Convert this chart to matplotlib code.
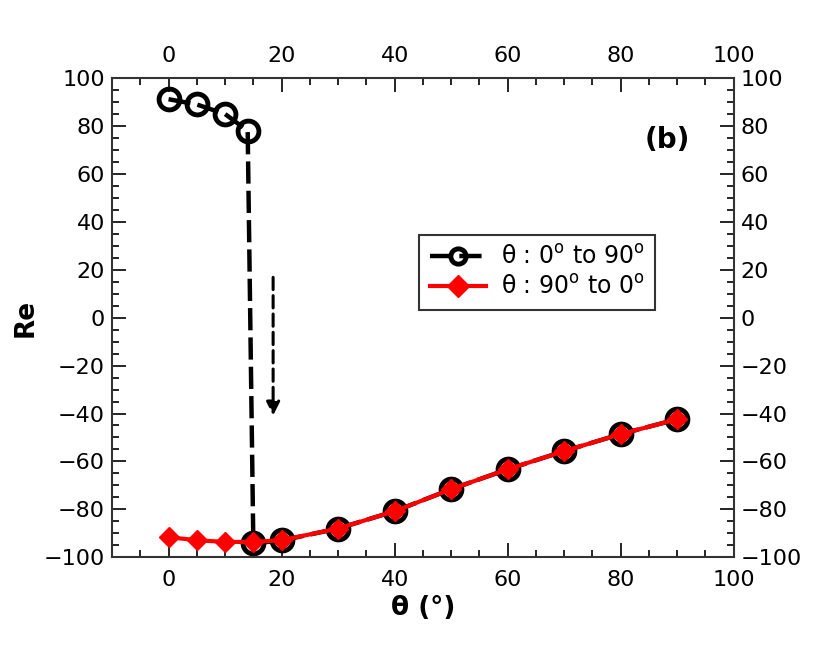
import matplotlib
matplotlib.use('Agg')
import matplotlib.pyplot as plt
from matplotlib.ticker import MultipleLocator

plt.rcParams['font.family'] = ['DejaVu Sans']
plt.rcParams['axes.unicode_minus'] = True

# 数据
theta_up = [0, 5, 10, 14, 15, 20, 30, 40, 50, 60, 70, 80, 90]
re_up = [91.2, 89.0, 85.0, 78.0, -94.2, -93.0, -88.0, -80.8, -71.6, -63.3, -55.7, -48.6, -42.4]
theta_down = [0, 5, 10, 15, 20, 30, 40, 50, 60, 70, 80, 90]
re_down = [-91.6, -92.9, -93.6, -93.6, -92.9, -88.0, -80.8, -71.6, -63.3, -55.7, -48.6, -42.4]

fig = plt.figure(figsize=(8.3, 6.51), dpi=100)
ax = fig.add_axes([0.135, 0.144, 0.749, 0.736])

ax.plot(theta_up, re_up, color='black', lw=3.2, ls=(0, (5, 1.6)), marker='o',
        ms=15, mfc='none', mec='black', mew=3.5, label='θ : 0$^\\mathrm{o}$ to 90$^\\mathrm{o}$')
ax.plot(theta_down, re_down, color='red', lw=3, marker='D', ms=10,
        mfc='red', mec='red', label='θ : 90$^\\mathrm{o}$ to 0$^\\mathrm{o}$')

# 虚线箭头
ax.annotate('', xy=(18.5, -42), xytext=(18.5, 18),
            arrowprops=dict(arrowstyle='-|>', color='black', lw=2.2, ls=(0, (4, 2)),
                            mutation_scale=20))

ax.text(0.93, 0.87, '(b)', transform=ax.transAxes, fontsize=20, fontweight='bold',
        ha='right', va='center')

ax.set_xlim(-10, 100)
ax.set_ylim(-100, 100)
ax.xaxis.set_major_locator(MultipleLocator(20))
ax.xaxis.set_minor_locator(MultipleLocator(5))
ax.yaxis.set_major_locator(MultipleLocator(20))
ax.yaxis.set_minor_locator(MultipleLocator(5))
ax.tick_params(which='both', direction='in', top=True, right=True,
               labeltop=True, labelright=True, labelsize=16, width=1.2)
ax.tick_params(which='major', length=10)
ax.tick_params(which='minor', length=5)
ax.tick_params(axis='x', which='major', pad=9)
ax.tick_params(axis='y', which='major', pad=5)
for s in ax.spines.values():
    s.set_linewidth(1.5)
    s.set_color('#333333')

ax.set_xlabel('θ (°)', fontsize=19, fontweight='bold', labelpad=4)
ax.set_ylabel('Re', fontsize=19, fontweight='bold', labelpad=4)

leg = ax.legend(loc='center left', bbox_to_anchor=(0.475, 0.595), fontsize=17,
                frameon=True, fancybox=False, edgecolor='black', handlelength=2.4,
                borderpad=0.45, labelspacing=0.25, handletextpad=0.6)
leg.get_frame().set_linewidth(1.5)
# 图例标记
for h in leg.legend_handles:
    h.set_markersize(11)

fig.savefig('out.png', dpi=100)
